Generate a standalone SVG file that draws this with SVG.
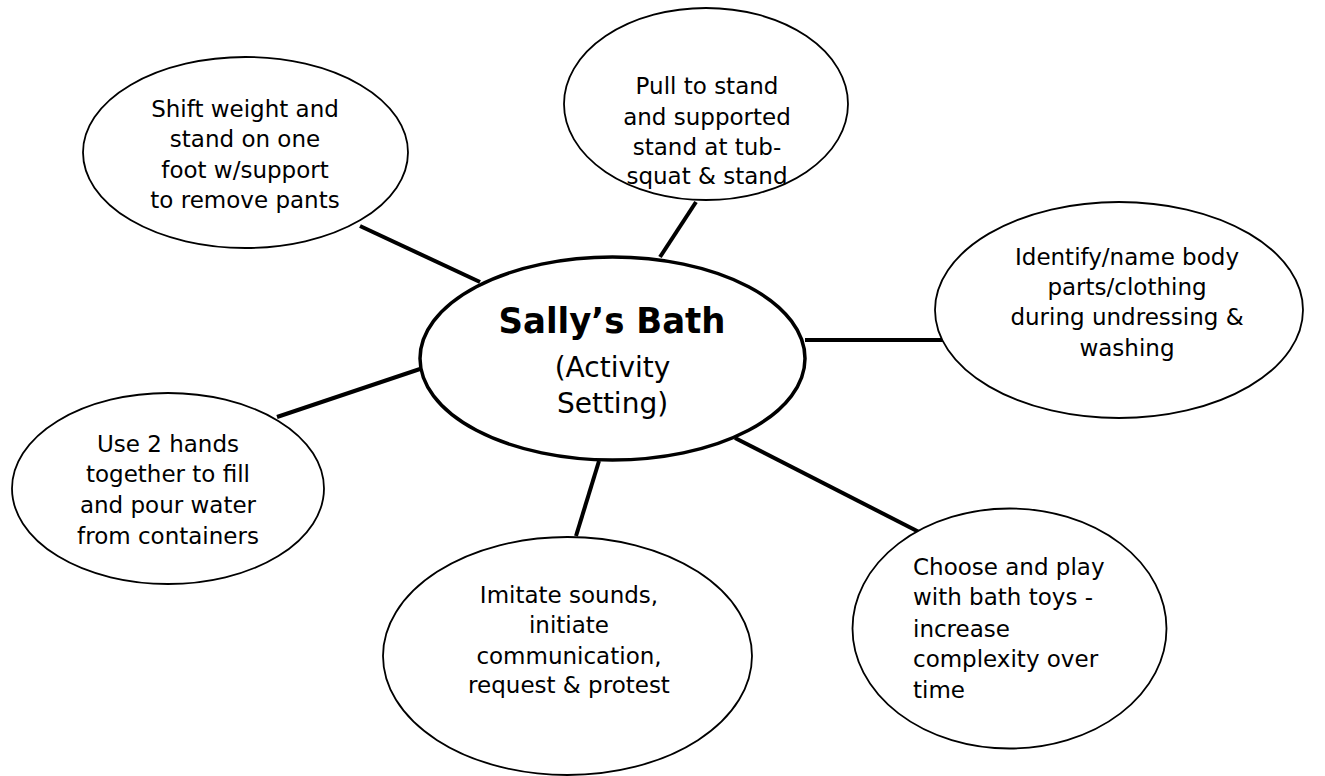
<svg xmlns="http://www.w3.org/2000/svg" width="1325" height="776" viewBox="0 0 1325 776">
<style>
.node{fill:#fff;stroke:#000;stroke-width:1.8}
.hub{fill:#fff;stroke:#000;stroke-width:3.5}
.conn line{stroke:#000;stroke-width:4;stroke-linecap:butt}
text{font-family:"DejaVu Sans","Verdana",sans-serif;font-size:23px;fill:#000}
.c{text-anchor:middle}
.title{font-weight:bold;font-size:36px}
.sub{font-size:28px}
</style>
<rect width="1325" height="776" fill="#fff"/>
<g id="connectors" class="conn">
<line x1="360" y1="226" x2="480" y2="282"/>
<line x1="696" y1="202" x2="660" y2="257"/>
<line x1="805" y1="340" x2="946" y2="340"/>
<line x1="277" y1="417" x2="420" y2="369"/>
<line x1="599" y1="461" x2="576" y2="536"/>
<line x1="735" y1="438" x2="919" y2="532"/>
</g>
<g id="node-shift">
<ellipse class="node" cx="245.5" cy="152.5" rx="162.5" ry="95.5"/>
<text class="c" x="245" y="117">Shift weight and</text>
<text class="c" x="245" y="147">stand on one</text>
<text class="c" x="245" y="178">foot w/support</text>
<text class="c" x="245" y="208">to remove pants</text>
</g>
<g id="node-pull">
<ellipse class="node" cx="706" cy="104" rx="142" ry="96"/>
<text class="c" x="707" y="94">Pull to stand</text>
<text class="c" x="707" y="125">and supported</text>
<text class="c" x="707" y="155">stand at tub-</text>
<text class="c" x="707" y="184">squat &amp; stand</text>
</g>
<g id="node-identify">
<ellipse class="node" cx="1119" cy="310" rx="184" ry="108"/>
<text class="c" x="1127" y="265">Identify/name body</text>
<text class="c" x="1127" y="295">parts/clothing</text>
<text class="c" x="1127" y="325">during undressing &amp;</text>
<text class="c" x="1127" y="356">washing</text>
</g>
<g id="node-hands">
<ellipse class="node" cx="168" cy="488.5" rx="156" ry="95.5"/>
<text class="c" x="168" y="452">Use 2 hands</text>
<text class="c" x="168" y="482">together to fill</text>
<text class="c" x="168" y="513">and pour water</text>
<text class="c" x="168" y="544">from containers</text>
</g>
<g id="node-imitate">
<ellipse class="node" cx="567.5" cy="656" rx="184.5" ry="119"/>
<text class="c" x="569" y="603">Imitate sounds,</text>
<text class="c" x="569" y="633">initiate</text>
<text class="c" x="569" y="664">communication,</text>
<text class="c" x="569" y="693">request &amp; protest</text>
</g>
<g id="node-choose">
<ellipse class="node" cx="1009.5" cy="628.5" rx="157" ry="120"/>
<text x="913" y="575">Choose and play</text>
<text x="913" y="605">with bath toys -</text>
<text x="913" y="637">increase</text>
<text x="913" y="667">complexity over</text>
<text x="913" y="698">time</text>
</g>
<g id="node-hub">
<ellipse class="hub" cx="612.5" cy="358.5" rx="192.5" ry="101.5"/>
<text class="c title" x="612" y="333" textLength="227" lengthAdjust="spacingAndGlyphs">Sally’s Bath</text>
<text class="c sub" x="612.5" y="377">(Activity</text>
<text class="c sub" x="612.5" y="413">Setting)</text>
</g>
</svg>
